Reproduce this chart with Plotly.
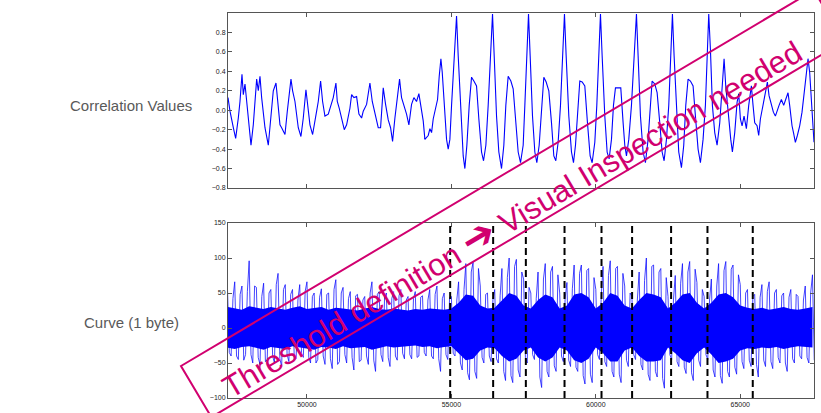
import math
import plotly.graph_objects as go

# ---------------- data ----------------
CORR_X = [47267, 47336, 47451, 47532, 47624, 47682, 47751, 47797, 47855, 47913, 48005, 48063, 48143, 48201,
          48259, 48316, 48374, 48432, 48547, 48662, 48743, 48835, 48928, 48974, 49066, 49124, 49239, 49320,
          49389, 49447, 49504, 49585, 49700, 49792, 49873, 49965, 50012, 50104, 50196, 50277, 50335, 50392,
          50473, 50542, 50623, 50738, 50854, 50911, 51003, 51050, 51119, 51200, 51292, 51373, 51488, 51546,
          51626, 51719, 51799, 51892, 51949, 52065, 52180, 52261, 52353, 52468, 52549, 52641, 52722, 52814,
          52895, 52964, 53045, 53126, 53206, 53275, 53356, 53448, 53529, 53621, 53702, 53794, 53875, 53944,
          54025, 54083, 54198, 54256, 54314, 54371, 54452, 54521, 54579, 54637, 54683, 54752, 54833, 54890,
          54948, 55006, 55098, 55179, 55236, 55329, 55409, 55467, 55536, 55617, 55698, 55778, 55871, 55951,
          56044, 56113, 56194, 56274, 56355, 56424, 56482, 56563, 56643, 56736, 56816, 56885, 56966, 57059,
          57139, 57220, 57312, 57393, 57485, 57543, 57612, 57670, 57727, 57808, 57889, 57958, 58039, 58120,
          58200, 58281, 58373, 58466, 58546, 58615, 58696, 58777, 58846, 58915, 58973, 59065, 59158, 59227,
          59296, 59365, 59446, 59527, 59619, 59711, 59803, 59873, 59965, 60034, 60103, 60161, 60219, 60311,
          60392, 60461, 60542, 60611, 60680, 60772, 60864, 60945, 61003, 61061, 61141, 61234, 61326, 61407,
          61464, 61545, 61637, 61718, 61810, 61891, 61949, 62041, 62122, 62214, 62295, 62364, 62445, 62525,
          62595, 62652, 62710, 62791, 62871, 62964, 63044, 63114, 63194, 63275, 63367, 63448, 63540, 63621,
          63713, 63794, 63863, 63909, 63967, 64036, 64117, 64198, 64290, 64371, 64440, 64498, 64578, 64671,
          64728, 64809, 64890, 64947, 65005, 65063, 65132, 65212, 65293, 65385, 65443, 65501, 65582, 65639,
          65697, 65789, 65870, 65939, 65997, 66078, 66147, 66216, 66285, 66343, 66424, 66504, 66573, 66654,
          66711, 66792, 66850, 66908, 66977, 67058, 67138, 67207, 67288, 67346, 67403, 67484, 67553]
CORR_Y = [0.13, -0.01, -0.18, -0.29, -0.08, 0.09, 0.37, 0.16, 0.27, 0.09, -0.22, -0.36, -0.15, 0.13,
          0.32, 0.20, 0.35, 0.13, -0.18, -0.36, -0.11, 0.20, 0.28, 0.13, -0.15, -0.18, -0.25, -0.01,
          0.16, 0.32, 0.20, 0.09, -0.18, -0.27, -0.08, 0.21, 0.09, -0.15, -0.25, -0.08, -0.01, 0.09,
          0.30, 0.09, -0.06, -0.04, 0.06, 0.13, 0.28, 0.09, 0.02, -0.08, -0.20, -0.15, 0.02, 0.16,
          0.13, 0.14, -0.04, -0.08, -0.01, 0.06, 0.28, 0.09, -0.04, -0.18, -0.18, 0.23, 0.06, -0.10,
          -0.18, -0.32, -0.08, 0.16, 0.32, 0.13, 0.06, -0.04, -0.15, 0.06, 0.13, 0.09, 0.17, 0.06,
          -0.11, -0.30, -0.26, -0.19, -0.23, -0.09, 0.01, 0.11, 0.35, 0.53, 0.39, 0.05, -0.30, -0.40,
          -0.30, 0.05, 0.56, 0.97, 0.56, -0.06, -0.47, -0.60, -0.36, 0.05, 0.34, 0.30, 0.25, -0.09,
          -0.43, -0.52, -0.36, 0.05, 0.56, 0.99, 0.56, -0.06, -0.43, -0.60, -0.36, 0.05, 0.35, 0.30,
          0.22, -0.09, -0.43, -0.54, -0.36, 0.05, 0.56, 0.99, 0.56, -0.06, -0.43, -0.54, -0.36, -0.02,
          0.34, 0.29, 0.20, -0.13, -0.47, -0.52, -0.33, 0.05, 0.56, 0.99, 0.56, -0.06, -0.43, -0.54,
          -0.36, -0.02, 0.30, 0.29, 0.25, -0.13, -0.47, -0.54, -0.33, 0.05, 0.56, 0.99, 0.56, -0.06,
          -0.43, -0.50, -0.30, 0.05, 0.23, 0.23, 0.23, -0.13, -0.36, -0.47, -0.30, 0.05, 0.56, 0.99,
          0.56, -0.06, -0.43, -0.54, -0.30, 0.05, 0.30, 0.27, 0.18, -0.13, -0.43, -0.52, -0.30, 0.05,
          0.56, 0.99, 0.56, -0.02, -0.43, -0.59, -0.36, 0.05, 0.32, 0.30, 0.25, -0.06, -0.40, -0.54,
          -0.30, 0.05, 0.66, 0.99, 0.63, 0.05, -0.23, -0.36, -0.13, 0.22, 0.53, 0.25, -0.02, -0.30,
          -0.43, -0.23, 0.08, 0.17, -0.09, -0.16, -0.06, -0.19, 0.05, 0.25, 0.05, -0.13, -0.16, -0.26,
          -0.09, 0.05, 0.15, 0.29, 0.15, 0.05, -0.02, -0.06, 0.01, 0.05, 0.11, 0.05, 0.11, 0.18,
          0.05, -0.16, -0.24, -0.33, -0.26, -0.16, -0.02, 0.15, 0.39, 0.53, 0.39, 0.05, -0.33]

# bottom trace: envelope of the dense power curve, read per 250-sample bin
BIN_X = [47250 + 250 * i for i in range(82)]
SPIKE_UP = [55, 66, 60, 96, 58, 64, 55, 78, 62, 55, 62, 66, 50, 56, 50, 69, 58, 52, 48, 45,
            66, 52, 50, 52, 55, 45, 52, 46, 55, 60, 50, 45, 66, 92, 94, 60, 50, 55, 85, 100,
            98, 70, 50, 80, 92, 88, 50, 65, 90, 90, 85, 55, 88, 96, 88, 60, 45, 80, 100, 90,
            85, 45, 75, 92, 95, 65, 45, 70, 92, 95, 90, 62, 55, 48, 62, 66, 55, 50, 55, 45,
            60, 76]
SPIKE_DN = [-40, -45, -38, -50, -52, -45, -50, -55, -48, -44, -42, -50, -45, -52, -58, -48, -50, -60, -46, -52,
            -62, -48, -55, -46, -44, -44, -40, -40, -44, -62, -45, -40, -60, -74, -72, -50, -48, -50, -75, -78,
            -70, -50, -45, -85, -70, -62, -48, -55, -62, -80, -78, -45, -55, -70, -78, -55, -45, -60, -75, -70,
            -86, -45, -55, -65, -75, -55, -45, -70, -79, -70, -66, -58, -55, -70, -55, -58, -50, -62, -50, -44,
            -50, -50]
# secondary (smaller) spikes between the main ones
SPIKE_UP2 = [42, 48, 52, 60, 45, 50, 62, 55, 48, 40, 52, 45, 44, 48, 55, 50, 42, 46, 40, 50,
             48, 44, 42, 46, 40, 42, 44, 40, 48, 42, 44, 40,
             55, 80, 85, 48, 40, 46, 72, 88, 80, 58, 42, 70, 80, 76, 42, 56, 78, 82, 72, 46,
             75, 85, 78, 50, 40, 68, 88, 80, 72, 40, 64, 80, 84, 55, 40, 60, 82, 84, 76, 50, 45,
             44, 52, 50, 46, 44, 48, 40, 50, 56]
SPIKE_DN2 = [-35, -40, -46, -38, -42, -48, -40, -44, -38, -46, -36, -42, -50, -40, -44, -52, -38, -42, -48, -40,
             -46, -38, -42, -40, -36, -38, -42, -35, -40, -44, -38, -36,
             -50, -64, -62, -42, -40, -44, -62, -68, -60, -42, -38, -70, -62, -54, -40, -46, -56, -68, -66, -38,
             -48, -62, -66, -46, -38, -52, -66, -62, -72, -38, -48, -56, -64, -46, -38, -60, -68, -62, -56, -48, -46,
             -52, -46, -48, -42, -50, -44, -40, -42, -46]
CORE_UP = [30, 28, 26, 31, 29, 27, 30, 28, 26, 29, 31, 27, 28, 30, 26, 29, 28, 27, 25, 28,
           30, 27, 26, 28, 27, 25, 27, 26, 28, 27, 26, 28,
           36, 48, 46, 32, 28, 29, 40, 50, 46, 32, 28, 40, 48, 44, 28, 32, 48, 50, 44, 28,
           36, 50, 46, 32, 28, 40, 50, 48, 44, 28, 36, 48, 50, 36, 28, 36, 48, 50, 44, 32, 29,
           27, 29, 26, 28, 30, 27, 26, 28, 30]
CORE_DN = [-28, -30, -27, -26, -29, -31, -27, -28, -30, -26, -28, -29, -31, -27, -28, -30, -26, -29, -28, -27,
           -31, -28, -26, -28, -27, -26, -25, -27, -26, -29, -27, -26,
           -36, -46, -44, -32, -28, -29, -40, -48, -44, -32, -28, -42, -48, -42, -28, -32, -46, -50, -44, -28,
           -36, -48, -48, -32, -28, -40, -48, -48, -46, -28, -36, -46, -50, -36, -28, -38, -50, -48, -44, -32, -29,
           -30, -28, -29, -27, -30, -28, -26, -27, -28]

DASH_X = [54958, 56446, 57578, 58917, 60197, 61256, 62606, 63865, 65433]

X_TICKS = [50000, 55000, 60000, 65000]
TOP_Y_TICKS = [-0.8, -0.6, -0.4, -0.2, 0.0, 0.2, 0.4, 0.6, 0.8]
BOT_Y_TICKS = [-100, -50, 0, 50, 100, 150]

ROW_LABELS = ["Correlation Values", "Curve (1 byte)"]
BANNER_LEFT = "Threshold definition"
BANNER_ARROW = "\u2794"
BANNER_RIGHT = "Visual Inspection needed"

# ---------------- figure ----------------
W, H = 821, 413
BLUE = "#0000ff"
PINK = "#d1006f"
FONT = "Liberation Sans, Arial, sans-serif"

fig = go.Figure()

# top: correlation
fig.add_trace(go.Scatter(x=CORR_X, y=CORR_Y, mode="lines", xaxis="x", yaxis="y",
                         line=dict(color=BLUE, width=1.1), showlegend=False, hoverinfo="skip"))

# bottom: spikes (main + secondary interleaved)
q = (BIN_X[1] - BIN_X[0]) / 4
zx, zy = [], []
for x, u, d2, d, u2 in zip(BIN_X, SPIKE_UP, SPIKE_DN2, SPIKE_DN, SPIKE_UP2):
    zx += [x, x + q, x + 2 * q, x + 3 * q]
    zy += [u, d2, d, u2]
fig.add_trace(go.Scatter(x=zx, y=zy, mode="lines", xaxis="x2", yaxis="y2",
                         line=dict(color="rgba(10,10,255,0.85)", width=0.9), showlegend=False, hoverinfo="skip"))
# bottom: dense core band
fig.add_trace(go.Scatter(x=BIN_X + BIN_X[::-1], y=CORE_UP + CORE_DN[::-1], xaxis="x2", yaxis="y2",
                         mode="lines", fill="toself", fillcolor=BLUE, line=dict(width=0, color=BLUE),
                         showlegend=False, hoverinfo="skip"))

xr = [CORR_X[0], CORR_X[-1]]
axis_common = dict(showline=True, linecolor="#555555", linewidth=1, mirror="ticks", ticks="inside",
                   ticklen=4, tickcolor="#555555", showgrid=False, zeroline=False, automargin=False,
                   tickfont=dict(family=FONT, size=7, color="#222222"))

fig.update_layout(
    width=W, height=H, margin=dict(l=0, r=0, t=0, b=0),
    paper_bgcolor="white", plot_bgcolor="white", template="none",
    xaxis=dict(domain=[228 / W, 814 / W], range=xr, anchor="y", tickvals=X_TICKS, showticklabels=False,
               **axis_common),
    yaxis=dict(domain=[1 - 188 / H, 1 - 13 / H], range=[-0.8, 1.0], anchor="x", tickvals=TOP_Y_TICKS,
               tickformat=".1f", **axis_common),
    xaxis2=dict(domain=[228 / W, 814 / W], range=xr, anchor="y2", tickvals=X_TICKS, tickformat="d",
                matches="x", **axis_common),
    yaxis2=dict(domain=[1 - 398 / H, 1 - 223 / H], range=[-100, 150], anchor="x2", tickvals=BOT_Y_TICKS,
                **axis_common),
)

# dashed markers
for dx in DASH_X:
    fig.add_shape(type="line", xref="x2", yref="y2 domain", x0=dx, x1=dx, y0=0, y1=1,
                  line=dict(color="black", width=2, dash="7px,4px"), layer="above")

# row labels
for lbl, ypx in zip(ROW_LABELS, [105, 322]):
    fig.add_annotation(text=lbl, xref="paper", yref="paper", x=131 / W, y=1 - ypx / H,
                       xanchor="center", yanchor="middle", showarrow=False,
                       font=dict(family=FONT, size=15, color="#595959"))

# banner: rotated rectangle + text
ang = math.radians(30.7)
ux, uy = math.cos(ang), -math.sin(ang)
nx, ny = math.sin(ang), math.cos(ang)
p0 = (181, 366)
L, Wd = 736, 59.5
pts = [p0,
       (p0[0] + L * ux, p0[1] + L * uy),
       (p0[0] + L * ux + Wd * nx, p0[1] + L * uy + Wd * ny),
       (p0[0] + Wd * nx, p0[1] + Wd * ny)]
path = "M " + " L ".join(f"{px / W:.5f},{1 - py / H:.5f}" for px, py in pts) + " Z"
fig.add_shape(type="path", xref="paper", yref="paper", path=path,
              line=dict(color=PINK, width=2), fillcolor="rgba(0,0,0,0)", layer="above")
banner = (f"{BANNER_LEFT} <span style=\"font-family:'DejaVu Sans';font-weight:bold;font-size:40px\">"
          f"{BANNER_ARROW}</span> {BANNER_RIGHT}")
fig.add_annotation(text=banner, xref="paper", yref="paper", x=510 / W, y=1 - 217 / H,
                   xanchor="center", yanchor="middle", showarrow=False, textangle=-30.7,
                   font=dict(family=FONT, size=31, color=PINK))

fig.write_html("out.html")
